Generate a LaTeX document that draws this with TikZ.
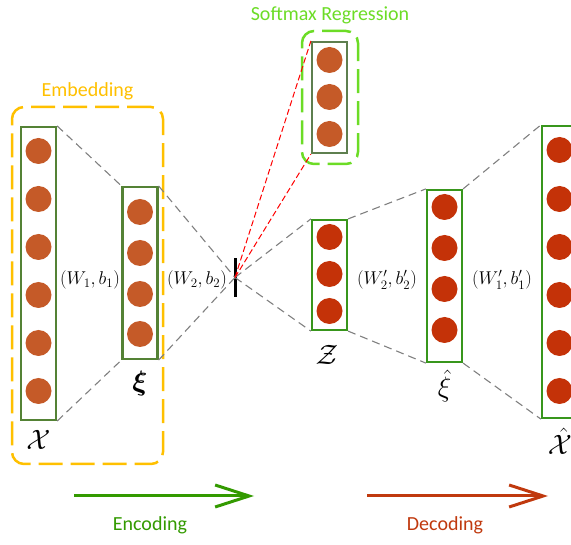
\RequirePackage{fix-cm}
\documentclass[tikz,border=0pt]{standalone}
\usepackage[no-math]{fontspec}
\usepackage{amsmath,bm}
\usetikzlibrary{arrows.meta, positioning}
\newfontfamily\calibri{Carlito}
\definecolor{EO}{RGB}{197,90,40}
\definecolor{DR}{RGB}{196,50,8}
\definecolor{EG}{RGB}{84,130,53}
\definecolor{DG}{RGB}{56,150,28}
\definecolor{SG}{RGB}{94,127,79}
\definecolor{YO}{RGB}{255,192,0}
\definecolor{LM}{RGB}{108,220,38}
\definecolor{AG}{RGB}{51,154,0}
\definecolor{AR}{RGB}{192,57,14}
\definecolor{GR}{RGB}{128,128,128}

\begin{document}
\begin{tikzpicture}[x=1pt, y=-1pt,
  layer/.style={draw=#1, line width=2.2pt, minimum width=35pt, inner sep=0pt},
  unit/.style={circle, fill=#1, minimum size=26pt, inner sep=0pt},
  group/.style={draw=#1, line width=2.5pt, rounded corners=12pt,
                dash pattern=on 24pt off 8pt},
  link/.style={draw=GR, line width=1.1pt, dash pattern=on 8pt off 5pt},
  soft/.style={draw=red, line width=1pt, dash pattern=on 6pt off 3pt},
  wlab/.style={font=\fontsize{18.5}{20}\selectfont, inner sep=0pt},
  vlab/.style={font=\fontsize{28}{30}\selectfont, inner sep=0pt},
  cap/.style={font=\calibri\fontsize{20}{22}\selectfont, text=#1},
  flow/.style={-{Straight Barb[length=34pt, width=22pt]}, line width=3pt, draw=#1}
]
\useasboundingbox (0,0) rectangle (571,545);

% Encoder side
\node[group=YO, minimum width=151pt, minimum height=357pt] (embed) at (87.5,285.5) {};
\node[cap=YO, above=2pt of embed.north] {Embedding};

\node[layer=EG, minimum height=293pt] (xin) at (38.5,273.5) {};
\foreach \y [count=\i] in {151,199,247,295,343,391}
  \node[unit=EO] (x\i) at (38.5,\y) {};
\node[vlab] (xinlab) at (38.5,440) {$\mathcal{X}$};

\node[layer=EG, minimum height=172pt] (xi) at (140,273) {};
\foreach \y [count=\i] in {212,253,294,334}
  \node[unit=EO] (e\i) at (140,\y) {};
\node[vlab] (xilab) at (140,384) {$\bm{\xi}$};

\node[wlab] at (90,280) {$(W_1,b_1)$};
\node[wlab] at (197,280) {$(W_2,b_2)$};

% Code layer
\node[fill=black, minimum width=3pt, minimum height=39pt, inner sep=0pt] (bar) at (235,277.5) {};

% Softmax head
\node[group=LM, minimum width=56pt, minimum height=133pt] (smgroup) at (330,97.5) {};
\node[cap=LM, above=2pt of smgroup.north] {Softmax Regression};
\node[layer=SG, minimum height=111pt] (sm) at (329.5,97.5) {};
\foreach \y [count=\i] in {60,97,134}
  \node[unit=EO] (s\i) at (329.5,\y) {};

% Decoder side
\node[layer=DG, minimum height=110pt] (z) at (329.5,275) {};
\foreach \y [count=\i] in {237,274,311}
  \node[unit=DR] (z\i) at (329.5,\y) {};
\node[vlab] (zlab) at (327,355) {$\mathcal{Z}$};

\node[layer=DG, minimum height=172pt] (xih) at (444.5,276) {};
\foreach \y [count=\i] in {207,248,289,330}
  \node[unit=DR] (d\i) at (444.5,\y) {};
\node[vlab] (xihlab) at (444.5,386) {$\hat{\xi}$};

\node[layer=DG, minimum height=292pt] (xout) at (559.5,272) {};
\foreach \y [count=\i] in {150,199,247,295,343,391}
  \node[unit=DR] (y\i) at (559.5,\y) {};
\node[vlab] (xoutlab) at (560,441) {$\hat{\mathcal{X}}$};

\node[wlab] at (387,280) {$(W_2',b_2')$};
\node[wlab] at (502,280) {$(W_1',b_1')$};

% Dashed links
\draw[link] (xin.north east)--(xi.north west);
\draw[link] (xin.south east)--(xi.south west);
\draw[link] (xi.north east)--(bar.center);
\draw[link] (xi.south east)--(bar.center);
\draw[link] (bar.center)--(z.north west);
\draw[link] (bar.center)--(z.south west);
\draw[link] (z.north east)--(xih.north west);
\draw[link] (z.south east)--(xih.south west);
\draw[link] (xih.north east)--(xout.north west);
\draw[link] (xih.south east)--(xout.south west);
\draw[soft] (bar.center)--(sm.north west);
\draw[soft] (bar.center)--(sm.south west);

% Direction arrows
\coordinate (enc0) at (74,496);
\coordinate (enc1) at (254,496);
\coordinate (dec0) at (367,496);
\coordinate (dec1) at (548,496);
\draw[flow=AG] (enc0)--(enc1);
\draw[flow=AR] (dec0)--(dec1);
\node[cap=AG] at (150,525) {Encoding};
\node[cap=AR] at (445,525) {Decoding};
\end{tikzpicture}
\end{document}
